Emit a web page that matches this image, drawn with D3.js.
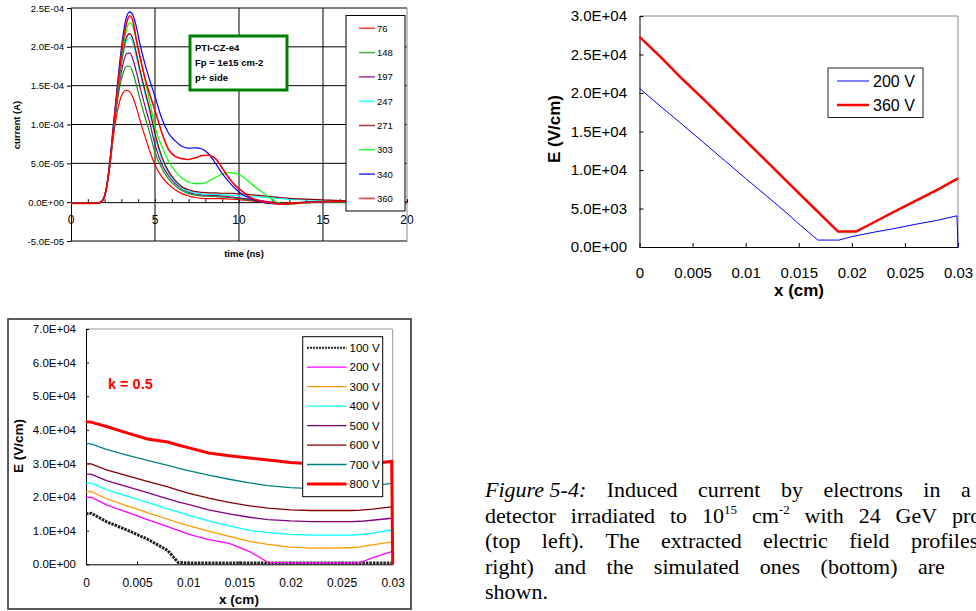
<!DOCTYPE html>
<html><head><meta charset="utf-8">
<script src="https://cdn.jsdelivr.net/npm/d3@7"></script>
<style>
html,body{margin:0;padding:0;background:#fff;}
svg{display:block;}
text{font-family:"Liberation Sans",Arial,sans-serif;fill:#000;}
.cap{font-family:"Liberation Serif","Times New Roman",serif;font-size:22px;}
</style></head><body>
<svg id="fig" width="976" height="611"></svg>
<script>
// ---------- Induced current (top left), values in µA ----------
const timeNs = [0,1,1.6,1.9,2.1,2.3,2.5,2.7,2.9,3.1,3.3,3.5,3.7,3.9,4.1,4.4,4.7,5.0,5.4,5.8,6.2,6.6,7.0,7.4,7.8,8.2,8.6,9.0,9.4,9.8,10.2,10.6,11.0,11.5,12.0,12.5,13.0,14,15,16,17,18,19,20];
const cur76  = [-1.5,-1.5,-1.2,3,16,44,80,110,130,141,144,142,134,121,106,85,65,48,33,23,16,11,8,6,5,4.5,4.5,4.5,4,3.5,3,2,1,0,-1,-1.5,-1,0,0.5,1,1,0.5,0,0];
const cur148 = [-1.5,-1.5,-1.2,3,16,45,84,120,148,166,175,175,166,150,133,110,88,64,44,30,21,15,11,9,8,7.5,7,6.5,6,5,4,3,2,0.5,-1,-2,-1.5,-0.5,0.5,1,1,0.5,0,0];
const cur197 = [-1.5,-1.5,-1.2,3,17,46,86,124,156,178,191,192,183,167,149,124,101,74,49,34,24,17,13,10.5,9.5,9,8.5,8,7,6,5,4,3,1.5,0,-1.5,-1.5,-0.5,0.5,1,1,0.5,0,0];
const cur247 = [-1.5,-1.5,-1.2,3,17,47,87,127,163,190,208,212,204,186,167,140,115,85,56,38,26,18,14,11.5,10.5,10,10,9.5,9,8.5,8,7.5,7,6.5,5.5,4.5,3.5,3,2.5,2,1,0.5,0,0];
const cur271 = [-1.5,-1.5,-1.2,3,17,47,88,128,165,193,212,217,209,191,171,144,118,88,59,40,28,20,16,13.5,12.5,12,12,11.5,11.5,11,10.5,10,9,8,7,6,5,4,3,2,1,0.5,0,0];
const cur303 = [-1.5,-1.5,-1.2,3,17,47,88,128,166,198,222,231,225,208,188,158,128,97,72,53,40,31,26,24,24,27,32,36,38,37,33,26,19,11,3,-1.5,-2.5,-1,0,0.5,1,0.5,0,0];
const cur340 = [-1.5,-1.5,-1.2,3,18,50,95,138,180,215,238,245,240,225,204,178,156,136,108,89,79,72,69.5,70,68.5,62,50,37,26,17,10,5.5,2,-0.5,-2,-2.5,-2,0,0.5,1,1,0.5,0,0];
const cur360 = [-1.5,-1.5,-1.2,3,17,48,90,132,172,207,230,240,232,208,188,160,138,118,90,68,59,56,55,57,60,60.5,56,44,31,21,14,7,3,0.5,-1.5,-2.5,-2,-0.5,0.5,1,1,0.5,0,-0.5];
const biasA   = ["76","148","197","247","271","303","340","360"];
const colorsA = ["#ff0000","#119911","#880088","#00ffff","#880000","#00ff00","#0000ff","#ff0000"];
const seriesA = [cur76,cur148,cur197,cur247,cur271,cur303,cur340,cur360];
const yTicksA = [-5e-5,0,5e-5,1e-4,1.5e-4,2e-4,2.5e-4];
const xLabelsA = [0,5,10,15,20];
const infoA = ["PTI-CZ-e4","Fp = 1e15 cm-2","p+ side"];

// ---------- Extracted field (top right) ----------
const x200 = [0,0.002,0.004,0.006,0.008,0.010,0.012,0.014,0.0148,0.0168,0.0188,0.020,0.022,0.024,0.026,0.028,0.0299,0.030];
const e200 = [20600,18250,15950,13600,11250,8900,6600,4250,3250,900,900,1350,1900,2400,2950,3450,4050,0];
const x360 = [0,0.002,0.004,0.006,0.008,0.010,0.012,0.014,0.016,0.0187,0.0204,0.022,0.024,0.026,0.028,0.030];
const e360 = [27300,24650,21850,19250,16500,13800,11100,8350,5650,2000,2000,3150,4600,6000,7400,8900];
const legendB = ["200 V","360 V"];
const yTicksB = [0,5e3,1e4,1.5e4,2e4,2.5e4,3e4];
const xTicksB = [0,0.005,0.01,0.015,0.02,0.025,0.03];

// ---------- Simulated field, k = 0.5 (bottom) ----------
const xSim = [0,0.0005,0.002,0.004,0.006,0.008,0.009,0.010,0.012,0.014,0.016,0.0178,0.020,0.022,0.024,0.026,0.0268,0.028,0.0299,0.030];
const sim100 = [15000,15200,12700,10200,7500,4100,600,350,350,350,350,350,350,350,350,350,350,350,350,350];
const sim200 = [19900,20000,17700,15500,13300,11200,10100,8950,7350,6200,3800,600,400,400,400,400,500,1900,3800,3800];
const sim300 = [21600,21700,19500,17400,15400,13400,12400,11500,9900,8300,6800,5900,5100,4800,4800,5000,5200,5800,6700,6700];
const sim400 = [24100,24200,22200,20300,18400,16500,15600,14600,12900,11400,10100,9400,8900,8700,8700,8700,8800,9300,10200,10200];
const sim500 = [26800,26800,24900,23100,21300,19500,18600,17800,16200,15000,14000,13300,12900,12700,12700,12700,12800,13100,13700,13700];
const sim600 = [29900,29900,28100,26400,24700,23000,22100,21200,19700,18400,17400,16700,16200,16000,16000,16000,16100,16400,17100,17100];
const sim700 = [36000,35800,34200,32500,30900,29400,28600,27900,26500,25300,24200,23400,22800,22500,22500,22700,22900,23300,24100,24100];
const sim800 = [42400,42300,41000,39100,37300,36400,35500,34700,33100,32300,31600,31000,30300,29900,29900,29900,29900,30000,30600,0];
const biasC   = ["100 V","200 V","300 V","400 V","500 V","600 V","700 V","800 V"];
const colorsC = ["#222222","#ff00ff","#ff9900","#00ffff","#800080","#800000","#008080","#ff0000"];
const seriesC = [sim100,sim200,sim300,sim400,sim500,sim600,sim700,sim800];
const yTicksC = [0,1e4,2e4,3e4,4e4,5e4,6e4,7e4];
const xTicksC = [0,0.005,0.01,0.015,0.02,0.025,0.03];

// ---------- helpers ----------
const svg = d3.select("#fig");
function sci(v){
  if (v === 0) return "0.0E+00";
  const e = Math.floor(Math.log10(Math.abs(v)) + 1e-9);
  const m = v / Math.pow(10, e);
  return m.toFixed(1) + "E" + (e < 0 ? "-" : "+") + String(Math.abs(e)).padStart(2, "0");
}
const plain = v => v === 0 ? "0" : String(+v.toFixed(3));
function styleAxis(g, size){
  g.selectAll("text").style("font-size", size + "px").attr("fill", "#000");
  g.selectAll("line").attr("stroke", "#000");
  g.select(".domain").attr("stroke", "#000");
}

// ================= Panel A =================
(function(){
  const x = d3.scaleLinear().domain([0,20]).range([71,407]);
  const y = d3.scaleLinear().domain([-5e-5,2.5e-4]).range([241,8]);
  const g = svg.append("g");

  g.selectAll("line.hg").data(yTicksA.filter(v => v !== 0)).join("line")
    .attr("x1", x(0)).attr("x2", x(20)).attr("y1", d => y(d)).attr("y2", d => y(d))
    .attr("stroke", "#000").attr("stroke-width", 1);
  g.selectAll("line.vg").data([5,10,15]).join("line")
    .attr("x1", d => x(d)).attr("x2", d => x(d)).attr("y1", y(2.5e-4)).attr("y2", y(-5e-5))
    .attr("stroke", "#000").attr("stroke-width", 1);
  g.append("line").attr("x1", x(20)).attr("x2", x(20)).attr("y1", y(2.5e-4)).attr("y2", y(-5e-5))
    .attr("stroke", "#888");

  const ya = g.append("g").attr("transform", `translate(${x(0)},0)`)
    .call(d3.axisLeft(y).tickValues(yTicksA).tickFormat(sci).tickSizeInner(4).tickSizeOuter(0).tickPadding(3));
  styleAxis(ya, 9.5);
  const xa = g.append("g").attr("transform", `translate(0,${y(0)})`)
    .call(d3.axisBottom(x).tickValues(d3.range(0,21,1)).tickFormat("").tickSizeInner(-3).tickSizeOuter(0));
  styleAxis(xa, 9.5);
  g.selectAll("text.xl").data(xLabelsA).join("text")
    .attr("x", d => x(d)).attr("y", y(0) + 22).attr("text-anchor", "middle")
    .style("font-size", "12px").text(d => d);

  const line = d3.line().x((d,i) => x(timeNs[i])).y(d => y(d * 1e-6)).curve(d3.curveMonotoneX);
  seriesA.forEach((s, k) => {
    g.append("path").attr("d", line(s)).attr("fill", "none")
      .attr("stroke", colorsA[k]).attr("stroke-width", k === 7 ? 1.6 : 1.2);
  });

  g.append("rect").attr("x",190).attr("y",36).attr("width",97).attr("height",54)
    .attr("fill","#fff").attr("stroke","#008000").attr("stroke-width",3);
  g.selectAll("text.info").data(infoA).join("text")
    .attr("x",195).attr("y",(d,i)=>51+i*15).style("font-size","9.5px").style("font-weight","bold").text(d=>d);

  g.append("rect").attr("x",346).attr("y",15.5).attr("width",59).attr("height",195.5)
    .attr("fill","#fff").attr("stroke","#000");
  biasA.forEach((b,i) => {
    const yy = 28.3 + i*24.3;
    g.append("line").attr("x1",359).attr("x2",375).attr("y1",yy).attr("y2",yy)
      .attr("stroke",colorsA[i]).attr("stroke-width",1.6).attr("opacity",0.75);
    g.append("text").attr("x",377).attr("y",yy+3.5).style("font-size","9.5px").text(b);
  });

  g.append("text").attr("transform","translate(20,125) rotate(-90)").attr("text-anchor","middle")
    .style("font-size","9.5px").style("font-weight","bold").text("current (A)");
  g.append("text").attr("x",244).attr("y",257).attr("text-anchor","middle")
    .style("font-size","9.5px").style("font-weight","bold").text("time (ns)");
})();

// ================= Panel B =================
(function(){
  const x = d3.scaleLinear().domain([0,0.03]).range([639.5,958]);
  const y = d3.scaleLinear().domain([0,3e4]).range([247,16]);
  const g = svg.append("g");
  g.append("line").attr("x1",x(0)).attr("x2",x(0.03)).attr("y1",y(3e4)).attr("y2",y(3e4)).attr("stroke","#888");
  g.append("line").attr("x1",x(0.03)).attr("x2",x(0.03)).attr("y1",y(3e4)).attr("y2",y(0)).attr("stroke","#888");

  const ya = g.append("g").attr("transform",`translate(${x(0)},0)`)
    .call(d3.axisLeft(y).tickValues(yTicksB).tickFormat(sci).tickSizeInner(-4).tickSizeOuter(0).tickPadding(12.5));
  styleAxis(ya, 15);
  const xa = g.append("g").attr("transform",`translate(0,${y(0)})`)
    .call(d3.axisBottom(x).tickValues(xTicksB).tickFormat(plain).tickSizeInner(-4).tickSizeOuter(0).tickPadding(20));
  styleAxis(xa, 15);

  const line = d3.line().x(d => x(d[0])).y(d => y(d[1]));
  g.append("path").attr("d", line(d3.zip(x200,e200))).attr("fill","none").attr("stroke","#0000ff").attr("stroke-width",1);
  g.append("path").attr("d", line(d3.zip(x360,e360))).attr("fill","none").attr("stroke","#ff0000").attr("stroke-width",2.5);

  g.append("rect").attr("x",828).attr("y",68).attr("width",95).attr("height",49.5).attr("fill","#fff").attr("stroke","#222");
  [["#0000ff",1],["#ff0000",2.5]].forEach((st,i) => {
    const yy = 81 + i*24;
    g.append("line").attr("x1",837).attr("x2",869).attr("y1",yy).attr("y2",yy).attr("stroke",st[0]).attr("stroke-width",st[1]);
    g.append("text").attr("x",873).attr("y",yy+5.5).style("font-size","16px").text(legendB[i]);
  });

  g.append("text").attr("transform","translate(560,129) rotate(-90)").attr("text-anchor","middle")
    .style("font-size","17px").style("font-weight","bold").text("E (V/cm)");
  g.append("text").attr("x",799).attr("y",296).attr("text-anchor","middle")
    .style("font-size","17px").style("font-weight","bold").text("x (cm)");
})();

// ================= Panel C =================
(function(){
  const x = d3.scaleLinear().domain([0,0.03]).range([86,392.7]);
  const y = d3.scaleLinear().domain([0,7e4]).range([564.3,329]);
  const g = svg.append("g");
  g.append("rect").attr("x",8).attr("y",319).attr("width",403).attr("height",290)
    .attr("fill","none").attr("stroke","#333").attr("stroke-width",1.6);
  g.append("line").attr("x1",x(0)).attr("x2",x(0.03)).attr("y1",y(7e4)).attr("y2",y(7e4)).attr("stroke","#999");
  g.append("line").attr("x1",x(0.03)).attr("x2",x(0.03)).attr("y1",y(7e4)).attr("y2",y(0)).attr("stroke","#999");

  const ya = g.append("g").attr("transform",`translate(${x(0)},0)`)
    .call(d3.axisLeft(y).tickValues(yTicksC).tickFormat(sci).tickSizeInner(-3).tickSizeOuter(0).tickPadding(10));
  styleAxis(ya, 11.5);
  const xa = g.append("g").attr("transform",`translate(0,${y(0)})`)
    .call(d3.axisBottom(x).tickValues(xTicksC).tickFormat(plain).tickSizeInner(-3).tickSizeOuter(0).tickPadding(14));
  styleAxis(xa, 12);

  const line = d3.line().x((d,i) => x(xSim[i])).y(d => y(d));
  seriesC.forEach((s,k) => {
    const p = g.append("path").attr("d", line(s)).attr("fill","none").attr("stroke", colorsC[k])
      .attr("stroke-width", k === 7 ? 3 : (k === 0 ? 3 : 1.3));
    if (k === 0) p.attr("stroke-dasharray","2.5,1");
  });

  g.append("rect").attr("x",302.7).attr("y",336.7).attr("width",80).attr("height",160).attr("fill","#fff").attr("stroke","#000");
  biasC.forEach((b,i) => {
    const yy = 347.7 + i*19.47;
    const l = g.append("line").attr("x1",307).attr("x2",346.5).attr("y1",yy).attr("y2",yy)
      .attr("stroke",colorsC[i]).attr("stroke-width", i === 7 ? 3 : (i === 0 ? 2 : 1.3));
    if (i === 0) l.attr("stroke-dasharray","2,1");
    g.append("text").attr("x",349.5).attr("y",yy+4).style("font-size","11.5px").text(b);
  });

  g.append("text").attr("x",108).attr("y",389).style("font-size","14.5px").style("font-weight","bold")
    .style("fill","#ff0000").text("k = 0.5");
  g.append("text").attr("transform","translate(23,446) rotate(-90)").attr("text-anchor","middle")
    .style("font-size","13.5px").style("font-weight","bold").text("E (V/cm)");
  g.append("text").attr("x",239).attr("y",604).attr("text-anchor","middle")
    .style("font-size","13.5px").style("font-weight","bold").text("x (cm)");
})();

// ================= Caption (justified lines, last word start given) =================
const captionLines = [
  {y:497,   last:961, words:[{t:"Figure 5-4:",it:true},{t:"Induced"},{t:"current"},{t:"by"},{t:"electrons"},{t:"in"},{t:"a"}]},
  {y:522.5, last:952, words:[{t:"detector"},{t:"irradiated"},{t:"to"},{t:"10",sup:"15"},{t:"cm",sup:"-2"},{t:"with"},{t:"24"},{t:"GeV"},{t:"protons"}]},
  {y:548,   last:911, words:[{t:"(top"},{t:"left)."},{t:"The"},{t:"extracted"},{t:"electric"},{t:"field"},{t:"profiles"}]},
  {y:573.5, last:918, words:[{t:"right)"},{t:"and"},{t:"the"},{t:"simulated"},{t:"ones"},{t:"(bottom)"},{t:"are"}]},
  {y:599,   last:485, words:[{t:"shown."}]}
];
captionLines.forEach(L => {
  const nodes = L.words.map(w => {
    const t = svg.append("text").attr("class","cap").attr("y", L.y);
    if (w.it) t.style("font-style","italic");
    t.append("tspan").text(w.t);
    if (w.sup) t.append("tspan").attr("dy",-9).style("font-size","13px").text(w.sup);
    return t;
  });
  const widths = nodes.map(n => n.node().getComputedTextLength());
  const n = nodes.length;
  const gap = n > 1 ? (L.last - 485 - d3.sum(widths.slice(0, n-1))) / (n-1) : 0;
  let xx = 485;
  nodes.forEach((nd,i) => { nd.attr("x", xx); xx += widths[i] + gap; });
});
</script>
</body></html>
